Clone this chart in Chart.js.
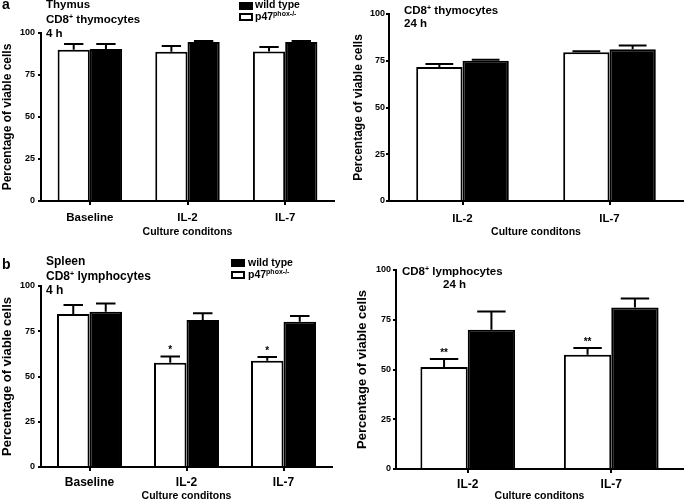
<!DOCTYPE html>
<html>
<head>
<meta charset="utf-8">
<script src="https://cdn.jsdelivr.net/npm/chart.js@4/dist/chart.umd.min.js"></script>
<style>
  body { margin: 0; background: #fff; width: 685px; height: 502px; position: relative; overflow: hidden;
         font-family: "Liberation Sans", Arial, sans-serif; font-weight: bold; color: #000; }
  canvas { position: absolute; }
  .t { position: absolute; font-size: 11.5px; line-height: 14.5px; white-space: nowrap; }
  .t.big { font-size: 12px; }
  .lg { position: absolute; font-size: 10.5px; line-height: 13px; white-space: nowrap; }
  .t sup, .lg sup { font-size: 7px; line-height: 0; vertical-align: 4px; }
  .tag { position: absolute; font-size: 14px; line-height: 14px; }
  .box { position: absolute; width: 14px; height: 8px; box-sizing: border-box; border: 2px solid #000; background: #fff; }
  .box.fill { background: #000; }
</style>
</head>
<body>
<canvas id="chartA1" width="340" height="240" style="left:0;top:0;width:340px;height:240px"></canvas>
<canvas id="chartA2" width="345" height="240" style="left:340px;top:0;width:345px;height:240px"></canvas>
<canvas id="chartB1" width="340" height="262" style="left:0;top:240px;width:340px;height:262px"></canvas>
<canvas id="chartB2" width="345" height="262" style="left:340px;top:240px;width:345px;height:262px"></canvas>

<div class="tag" style="left:2px;top:-3px">a</div>
<div class="t" style="left:46px;top:-3px">Thymus<br>CD8<sup>+</sup> thymocytes<br>4 h</div>
<div class="box fill" style="left:239px;top:2px"></div>
<div class="lg" style="left:255px;top:-2px">wild type</div>
<div class="box" style="left:239px;top:13px"></div>
<div class="lg" style="left:255px;top:10px">p47<sup>phox-/-</sup></div>
<div class="t" style="left:404px;top:4px;line-height:12.5px">CD8<sup>+</sup> thymocytes<br>24 h</div>

<div class="tag" style="left:2px;top:257px">b</div>
<div class="t big" style="left:46px;top:254px">Spleen<br>CD8<sup>+</sup> lymphocytes<br>4 h</div>
<div class="box fill" style="left:231px;top:259px"></div>
<div class="lg" style="left:248px;top:256px">wild type</div>
<div class="box" style="left:231px;top:271px"></div>
<div class="lg" style="left:248px;top:268px">p47<sup>phox-/-</sup></div>
<div class="t" style="left:402px;top:264px">CD8<sup>+</sup> lymphocytes</div>
<div class="t" style="left:443px;top:277px">24 h</div>

<script>
  /* ===== Data ===== */
  var CATS_3 = ["Baseline", "IL-2", "IL-7"];
  var CATS_2 = ["IL-2", "IL-7"];

  // a: thymus, 4 h
  var thy4hKO = [90.0, 88.9, 89.0];
  var thy4hKOErr = [3.5, 3.4, 2.7];
  var thy4hWT = [90.5, 94.6, 94.6];
  var thy4hWTErr = [3.0, 0.6, 0.6];

  // a: thymus, 24 h
  var thy24hKO = [71.7, 79.5];
  var thy24hKOErr = [1.6, 0.6];
  var thy24hWT = [75.0, 81.1];
  var thy24hWTErr = [0.6, 2.1];

  // b: spleen, 4 h
  var spl4hKO = [84.5, 57.6, 58.7];
  var spl4hKOErr = [5.0, 3.4, 2.1];
  var spl4hWT = [85.8, 81.2, 80.3];
  var spl4hWTErr = [4.6, 3.7, 3.1];
  var spl4hMarks = ["", "*", "*"];

  // b: spleen, 24 h
  var spl24hKO = [51.3, 57.4];
  var spl24hKOErr = [4.0, 3.4];
  var spl24hWT = [70.0, 81.2];
  var spl24hWTErr = [9.2, 4.5];
  var spl24hMarks = ["**", "**"];

  var Y_TITLE = "Percentage of viable cells";
  var X_TITLE = "Culture conditons";

  var FONT = "'Liberation Sans', Arial, sans-serif";
  Chart.defaults.font.family = FONT;
  Chart.defaults.color = "#000";

  /* ===== Error bars + significance marks ===== */
  var errorBars = {
    id: "errorBars",
    afterDatasetsDraw: function (chart) {
      var ctx = chart.ctx;
      var y = chart.scales.y;
      chart.data.datasets.forEach(function (ds, i) {
        var meta = chart.getDatasetMeta(i);
        meta.data.forEach(function (bar, j) {
          var top = y.getPixelForValue(ds.data[j] + ds.errors[j]);
          var half = bar.width * 0.3;
          ctx.save();
          ctx.strokeStyle = "#000";
          ctx.lineWidth = 2;
          ctx.beginPath();
          ctx.moveTo(bar.x, bar.y);
          ctx.lineTo(bar.x, top);
          ctx.moveTo(bar.x - half, top);
          ctx.lineTo(bar.x + half, top);
          ctx.stroke();
          if (ds.marks && ds.marks[j]) {
            ctx.fillStyle = "#000";
            ctx.font = "bold 10px " + FONT;
            ctx.textAlign = "center";
            ctx.textBaseline = "bottom";
            ctx.fillText(ds.marks[j], bar.x, top - 1);
          }
          ctx.restore();
        });
      });
    }
  };

  function makeChart(id, labels, ko, koErr, wt, wtErr, marks, box) {
    var el = document.getElementById(id);
    return new Chart(el.getContext("2d"), {
      type: "bar",
      data: {
        labels: labels,
        datasets: [{
          label: "p47phox-/-",
          data: ko,
          errors: koErr,
          marks: marks,
          backgroundColor: "#fff",
          borderColor: "#000",
          borderWidth: 2,
          categoryPercentage: box.cat,
          barPercentage: 1
        }, {
          label: "wild type",
          data: wt,
          errors: wtErr,
          backgroundColor: "#000",
          borderColor: "#000",
          borderWidth: 2,
          categoryPercentage: box.cat,
          barPercentage: 1
        }]
      },
      options: {
        responsive: false,
        animation: false,
        events: [],
        layout: { padding: { left: 0, top: box.top, right: box.w - box.right, bottom: 0 } },
        plugins: { legend: { display: false }, tooltip: { enabled: false } },
        scales: {
          x: {
            z: 1,
            afterFit: function (s) { s.height = box.h - box.bottom; },
            grid: { display: true, drawOnChartArea: false, offset: false, color: "#000", lineWidth: 2, tickLength: 4 },
            border: { display: true, color: "#000", width: 2 },
            ticks: { font: { size: box.xFont, weight: "bold" }, padding: box.xPad },
            title: { display: true, text: X_TITLE, font: { size: 10.5, weight: "bold" }, padding: { top: 0, bottom: box.xTitlePad } }
          },
          y: {
            z: 1,
            min: 0,
            max: 100,
            afterFit: function (s) { s.width = box.left; },
            grid: { display: true, drawOnChartArea: false, color: "#000", lineWidth: 2, tickLength: 3 },
            border: { display: true, color: "#000", width: 2 },
            ticks: { stepSize: 25, font: { size: 9, weight: "bold" }, padding: box.yPad },
            title: { display: true, text: Y_TITLE, font: { size: box.yTitleFont, weight: "bold" }, padding: { top: box.yTitlePad, bottom: 0 } }
          }
        }
      },
      plugins: [errorBars]
    });
  }

  makeChart("chartA1", CATS_3, thy4hKO, thy4hKOErr, thy4hWT, thy4hWTErr, null,
    { w: 340, h: 240, left: 41, top: 33, right: 334, bottom: 201, cat: 0.66, xFont: 11.5, xPad: 6, xTitlePad: 1.5,
      yPad: 3, yTitleFont: 12, yTitlePad: 0 });
  makeChart("chartA2", CATS_2, thy24hKO, thy24hKOErr, thy24hWT, thy24hWTErr, null,
    { w: 345, h: 240, left: 49, top: 14, right: 343, bottom: 201, cat: 0.63, xFont: 11.5, xPad: 7, xTitlePad: 1.5,
      yPad: 1, yTitleFont: 12, yTitlePad: 11 });
  makeChart("chartB1", CATS_3, spl4hKO, spl4hKOErr, spl4hWT, spl4hWTErr, spl4hMarks,
    { w: 340, h: 262, left: 41, top: 46, right: 332, bottom: 227, cat: 0.67, xFont: 12, xPad: 4, xTitlePad: 0,
      yPad: 3, yTitleFont: 13, yTitlePad: 0 });
  makeChart("chartB2", CATS_2, spl24hKO, spl24hKOErr, spl24hWT, spl24hWTErr, spl24hMarks,
    { w: 345, h: 262, left: 56, top: 30, right: 343, bottom: 229, cat: 0.66, xFont: 12, xPad: 4, xTitlePad: 0,
      yPad: 2, yTitleFont: 13, yTitlePad: 15 });
</script>
</body>
</html>
